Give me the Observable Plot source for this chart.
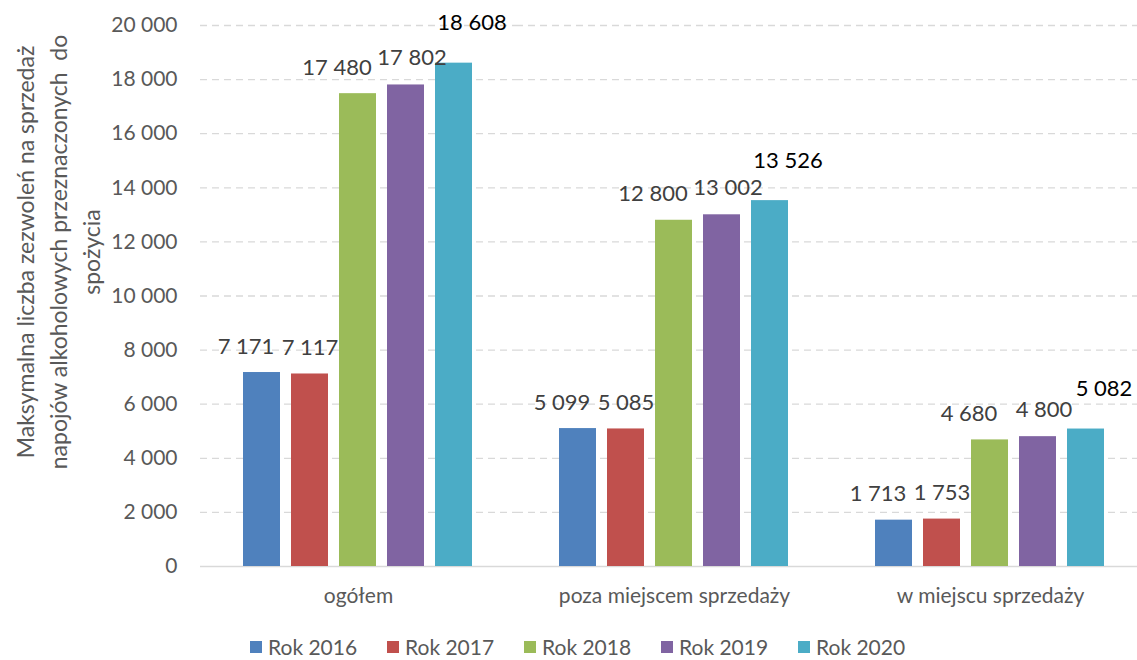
<!DOCTYPE html>
<html><head><meta charset="utf-8">
<script src="https://cdn.jsdelivr.net/npm/d3@7"></script>
<script src="https://cdn.jsdelivr.net/npm/@observablehq/plot@0.6"></script>
<style>
body{margin:0;background:#fff;font-family:Lato,sans-serif;overflow:hidden;}
#legend{display:flex;justify-content:flex-start;padding-left:250px;height:34px;align-items:flex-end;font-size:21px;line-height:24px;color:#595959;font-family:Lato,sans-serif;}
#legend .item{display:flex;align-items:center;gap:6px;width:137px;}
#legend .sw{width:12px;height:12px;display:inline-block;}
</style></head><body><div id="chart"></div><div id="legend"></div>
<script>
const categories = ["ogółem", "poza miejscem sprzedaży", "w miejscu sprzedaży"];
const years = ["Rok 2016", "Rok 2017", "Rok 2018", "Rok 2019", "Rok 2020"];
const v2016 = [7171, 5099, 1713];
const v2017 = [7117, 5085, 1753];
const v2018 = [17480, 12800, 4680];
const v2019 = [17802, 13002, 4800];
const v2020 = [18608, 13526, 5082];
const yTicks = [0, 2000, 4000, 6000, 8000, 10000, 12000, 14000, 16000, 18000, 20000];
const yTitle = ["Maksymalna liczba zezwoleń na sprzedaż", "napojów alkoholowych przeznaczonych  do", "spożycia"];
const colors = ["#4f81bd", "#c0504d", "#9bbb59", "#8064a2", "#4bacc6"];

const series = [v2016, v2017, v2018, v2019, v2020];
const table = [];
categories.forEach((c, ci) => years.forEach((y, yi) => table.push({category: c, year: y, value: series[yi][ci]})));
const fmt = v => d3.format(",")(v).replace(/,/g, " ");
const labelShift = [[-16, -26], [0, -26], [-21, -26], [6, -27], [18, -40]];

const plot = Plot.plot({
  width: 1137, height: 625,
  marginLeft: 199, marginRight: -12, marginTop: 25, marginBottom: 59,
  style: {fontFamily: "Lato, sans-serif", fontSize: "21px", color: "#595959", background: "#fff"},
  fx: {domain: categories, padding: 0, label: null, axis: "bottom", tickSize: 0, tickPadding: 22},
  x: {domain: years, paddingInner: 0.224, paddingOuter: 0.846, axis: null},
  y: {domain: [0, 20000], ticks: yTicks, tickFormat: fmt, tickSize: 0, tickPadding: 23, label: null},
  color: {domain: years, range: colors},
  marks: [
    Plot.ruleY(yTicks.filter(t => t > 0), {stroke: "#d9d9d9", strokeWidth: 1.3, strokeDasharray: "7,5"}),
    Plot.ruleY([0], {stroke: "#d9d9d9", strokeWidth: 1.3}),
    Plot.barY(table, {fx: "category", x: "year", y: "value", fill: "year"}),
    ...years.map((yr, i) => Plot.text(table.filter(d => d.year === yr), {
      fx: "category", x: "year", y: "value", text: d => fmt(d.value),
      dx: labelShift[i][0], dy: labelShift[i][1], fontSize: 22,
      fill: i === 4 ? "#000" : "#404040"
    }))
  ]
});
document.getElementById("chart").appendChild(plot);

const svg = d3.select(plot);
const xs = [25, 58, 91];
yTitle.forEach((t, i) => {
  svg.append("text")
    .attr("transform", `translate(${xs[i]},252) rotate(-90)`)
    .attr("text-anchor", "middle")
    .attr("dominant-baseline", "central")
    .attr("fill", "#595959")
    .style("font-size", "23px")
    .style("white-space", "pre")
    .text(t);
});

const legend = d3.select("#legend");
years.forEach((y, i) => {
  const it = legend.append("div").attr("class", "item");
  it.append("span").attr("class", "sw").style("background", colors[i]);
  it.append("span").text(y);
});
</script></body></html>
